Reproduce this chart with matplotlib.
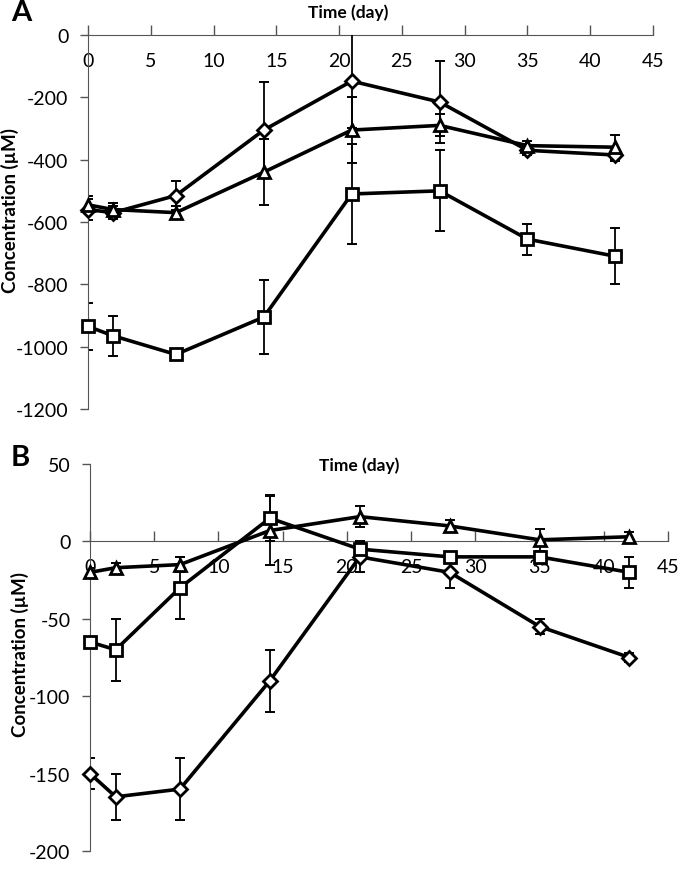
import matplotlib
matplotlib.use("Agg")
import matplotlib.pyplot as plt

plt.rcParams['font.family'] = ['Lato', 'DejaVu Sans']

days = [0, 2, 7, 14, 21, 28, 35, 42]

# panel A
a_diamond = [-560, -570, -515, -305, -148, -215, -370, -385]
a_diamond_err = [35, 20, 45, 155, 150, 130, 15, 20]
a_triangle = [-545, -560, -570, -440, -305, -290, -355, -360]
a_triangle_err = [30, 20, 20, 105, 105, 35, 15, 40]
a_square = [-935, -965, -1025, -905, -510, -500, -655, -710]
a_square_err = [75, 65, 15, 118, 160, 130, 50, 90]

# panel B
b_diamond = [-150, -165, -160, -90, -10, -20, -55, -75]
b_diamond_err = [10, 15, 20, 20, 10, 10, 5, 3]
b_triangle = [-20, -17, -15, 7, 16, 10, 1, 3]
b_triangle_err = [3, 3, 5, 22, 7, 4, 7, 3]
b_square = [-65, -70, -30, 15, -5, -10, -10, -20]
b_square_err = [3, 20, 20, 15, 4, 3, 3, 10]

x_ticks = [0, 5, 10, 15, 20, 25, 30, 35, 40, 45]
a_yticks = [0, -200, -400, -600, -800, -1000, -1200]
b_yticks = [50, 0, -50, -100, -150, -200]

fig = plt.figure(figsize=(6.8, 8.78), dpi=100)
ax_a = fig.add_axes([0.1294, 0.533, 0.831, 0.426])
ax_b = fig.add_axes([0.1324, 0.0296, 0.85, 0.4408])


def draw(ax, series, yticks, ylim):
    for vals, errs, marker, ms in series:
        ax.errorbar(days, vals, yerr=errs, fmt='none', ecolor='black',
                    elinewidth=1.3, capsize=3.5, capthick=1.4, zorder=2)
        ax.plot(days, vals, color='black', lw=2.6, marker=marker, ms=ms,
                mfc='white', mec='black', mew=2.0, zorder=3, clip_on=False)
    ax.set_xlim(0, 45)
    ax.set_ylim(*ylim)
    ax.set_xticks(x_ticks)
    ax.set_yticks(yticks)
    ax.set_yticklabels([str(t) for t in yticks])
    for s in ['top', 'right']:
        ax.spines[s].set_visible(False)
    ax.spines['bottom'].set_position(('data', 0))
    ax.spines['bottom'].set_color('#555555')
    ax.spines['left'].set_color('#555555')
    ax.spines['bottom'].set_zorder(1)
    ax.tick_params(axis='x', direction='in', length=7, width=1, color='#555555',
                   labelsize=14, pad=12)
    ax.tick_params(axis='y', direction='out', length=6, width=1, color='#555555',
                   labelsize=14, pad=8)
    ax.set_facecolor('none')


draw(ax_a, [(a_diamond, a_diamond_err, 'D', 7.5),
            (a_triangle, a_triangle_err, '^', 9),
            (a_square, a_square_err, 's', 8.5)], a_yticks, (-1200, 0))
draw(ax_b, [(b_diamond, b_diamond_err, 'D', 7.5),
            (b_triangle, b_triangle_err, '^', 9),
            (b_square, b_square_err, 's', 8.5)], b_yticks, (-200, 50))

fig.text(0.512, 0.986, 'Time (day)', ha='center', va='center',
         fontsize=12.5, fontweight='bold')
fig.text(0.528, 0.470, 'Time (day)', ha='center', va='center',
         fontsize=12.5, fontweight='bold')
fig.text(0.017, 0.985, 'A', ha='left', va='center', fontsize=21, fontweight='bold')
fig.text(0.015, 0.478, 'B', ha='left', va='center', fontsize=21, fontweight='bold')
fig.text(0.014, 0.76, 'Concentration (µM)', rotation=90, ha='center',
         va='center', fontsize=13.5, fontweight='bold')
fig.text(0.030, 0.255, 'Concentration (µM)', rotation=90, ha='center',
         va='center', fontsize=13.5, fontweight='bold')

fig.savefig('out.png', dpi=100)
